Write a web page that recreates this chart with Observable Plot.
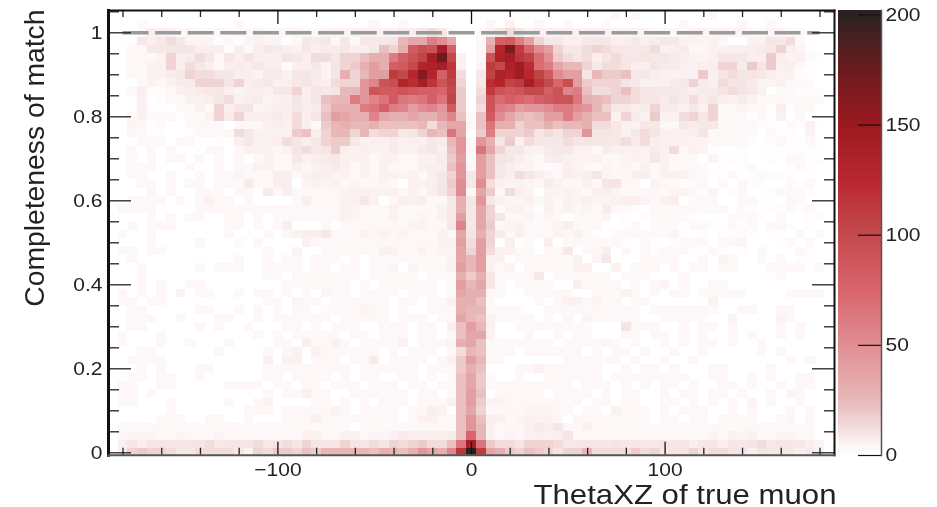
<!DOCTYPE html>
<html><head><meta charset="utf-8">
<script src="https://cdn.jsdelivr.net/npm/d3@7"></script>
<script src="https://cdn.jsdelivr.net/npm/@observablehq/plot@0.6"></script>
<style>html,body{margin:0;padding:0;background:#fff}#wrap{position:relative;width:937px;height:507px;overflow:hidden;font-family:"Liberation Sans",Arial,sans-serif}#wrap svg{position:absolute;left:0;top:0;background:transparent;font-family:"Liberation Sans",Arial,sans-serif;filter:blur(0.4px)}</style>
</head><body><div id="wrap"></div>
<script>
// Count per character: digits are literal counts, letters are estimated count levels.
const countLevels = {a:12,b:15,c:18,d:22,e:25,f:30,g:35,h:40,i:45,j:50,k:55,l:60,m:65,n:70,o:75,p:80,q:85,r:90,s:95,t:100,u:105,v:110,w:115,x:120,y:125,z:130,A:135,B:140,C:145,D:150,E:160,F:165,G:175,H:200};
const binWidthTheta = 5, binWidthComp = 0.02;
// rows run from completeness 1.04 (top) down to 0.
// Left arm: theta -180 ... -10 (last character is -10)
const leftCounts = [
"00000000000000000000000000000000100",
"00200000000030000000000000300200000",
"00366534323323423343244455555668a82",
"01868a84441314544138783828889eggljg",
"033889996661626876586778668dbfqsrBp",
"03335b67a83869666986aa8bbdfflpruBGt",
"03355b6a863676866166849bcfhfpqtzABw",
"0235578baa9866477589749fbehhvtyEzpv",
"00353577bbb9b678568976abbikrszxBwru",
"036113567886466588b6989eeirqqrqppot",
"01501325569a567456969deelikmqmlmpmu",
"0151102253b6994566867cffflmplkhjkiq",
"0352231225b7b66676a69dhgffkgffgffhk",
"043120033330333565a62cefeefddddeaeg",
"033110013333a85555cd6beebeabb89bedm",
"00333033001068556a968bcc8565756587e",
"0303030003303555359a89c65655755786d",
"0303033030203035338567855535533557c",
"0333000300303355335356753535333666d",
"0330030030334333663566453535545268b",
"033030330332733660454534334305568c",
"004030033303307363333345555535369b",
"03333030353303000036333558503656338",
"33330000333332333333333543235323358",
"030303300330302333333543335334358",
"03033300000330303600030333333345338",
"30030000000300030356683335353433353",
"00030000300020300005333333333333355",
"33033000000000030040022223255335344",
"03000000000030030330322030323222325",
"00300000303330033330320230234042235",
"00300000000000033033333320332220223",
"00303003300000000332332303033322302",
"30303050330030330303043302323033303",
"33033000000000033043303333330330335",
"03300000330030303033023334320300333",
"03330030003300303333330333330333033",
"03300000303003000330303330033303306",
"30003000000000303033333033033303303",
"30003003000300003306335303333503334",
"00330000003000030350533333303033303",
"03333000000000060550333033703333035",
"00303000330000033333333303333330333",
"03303300300000033033330303300330303",
"33003300000333303303303330333033033",
"33030000000000030336330033333303303",
"33000300000300350000330303033303335",
"00000300000003330333335303333033650",
"00003330033003000333533333333035533",
"22233223232232222223222202223232333",
"34443243334333333335533553445766667",
"696999999a8999a89a9b999b99a9babcaad",
"6bcbba88aaaa85baccbdceeeeedfedfigfk"
];
// Core: theta -5, 0, +5
const coreCounts = ["000","000","002","003","003","503","504","a08","b08","c0a","c0b","c0a","d2d","g3d","g0c","i2i","i3m","h2h","i3h","i8h","j8j","j3g","f9i","f8g","h8g","k8g","g9f","hah","gbh","geh","heh","fcf","heg","gff","ffd","fee","ged","dhe","dgg","fgd","aed","che","cfd","dgc","dgc","dhd","dhc","dgb","did","die","doe","mBm","wHv"];
// Right arm: theta +10 ... +180 (first character is +10)
const rightCounts = [
"00000000000003030000000300000000000",
"30500300300020000000300000300200000",
"58a85655555554444333344444433443210",
"fpqlhb8866888668678855453005598a300",
"hzFvojhb88aba8888a567335566678b6410",
"rABwunjca9a69a889887644588866c64521",
"vtACxnlgeeb8aa9669775566bb7c9c56310",
"uAzCyuqjhh9eccd8865555c69a998645110",
"xzuvBwtoshcbbb9855578b75a9974453320",
"vrqrttprkldaabda988876779a985022111",
"rnponpqrrmfedbba99797a7965753333333",
"rlkhiijlljieb8867b77585b33433161320",
"qjgedehhlhfdd5b75c55ab8b32313150200",
"mffbddfdeefaa8558833878832231102151",
"lbbbc9a9bbi99858a955569233220211040",
"f9c5a888a99888a7a655544332210131121",
"gb88557885537555575a354100100111110",
"d9864367544533454853320411100103201",
"d8644313643243435352332010120001310",
"d86a864365694336625553311301211100",
"a5454375335399330432123020311002130",
"c3a64054543664223324431401300122210",
"85445353546445664356023200220103200",
"b2553153534373210332332230210112130",
"b93342420233401012222100022310300110",
"c3453234632300130222032102120231010",
"b7363334352102233224101011210110302",
"b0602060233233102101322032400012020",
"a5533033802360303133310310103000310",
"55033333250480003333003042003020110",
"53403333355005033302033022000333303",
"83333803333320333000200000000130000",
"83033330063333030340300330000000000",
"32003333300333530303302222200003333",
"20000303553423033000000500000000000",
"22220033333333330333333200330033000",
"53322030304333330033332004000043000",
"50022323322000933300303303000030300",
"50003003033000330330303003030030300",
"22323330233342030030303303003000000",
"32303333230303303003003000003030000",
"23000000333333030030030000000003030",
"00023533333300303303000330000300000",
"20030033333303333333300330030300330",
"33333333303330303033030033030030330",
"03333303333030330030330330300304300",
"44333333330330330033030303040300300",
"33334443303305333030333003030003030",
"65345453033333333033033033330034030",
"53335768335333222222222322232322320",
"53435656933333333333333435453344330",
"caa9bbba88998989889896896989a898864",
"gfcbdcb9bbeaaaacab899b9aa9969898684"
];
const xMajor = [-100, 0, 100];
const xMinor = [-180,-160,-140,-120,-80,-60,-40,-20,20,40,60,80,120,140,160,180];
const yMajor = [0,0.2,0.4,0.6,0.8,1];
const yMinor = [0.05,0.1,0.15,0.25,0.3,0.35,0.45,0.5,0.55,0.65,0.7,0.75,0.85,0.9,0.95,1.05];
const barTicks = [0,50,100,150,200];
const colorStops = [0,5,12,25,50,75,100,125,150,175,200];
const colorRange = ["#ffffff","#fbf1f1","#f2dcdc","#e8b8b8","#e08c92","#d9646c","#c24a4c","#b9262e","#9a1a20","#6a1c1e","#2a2222"];

const decode = ch => (ch in countLevels ? countLevels[ch] : +ch);
const cells = [];
coreCounts.forEach((core, r) => {
  const comp = (coreCounts.length - 1 - r) * binWidthComp;
  const push = (k, ch) => cells.push({theta: k * binWidthTheta, comp, n: decode(ch)});
  const L = leftCounts[r], R = rightCounts[r];
  for (let i = 0; i < L.length; i++) push(-2 - (L.length - 1 - i), L[i]);
  for (let i = 0; i < 3; i++) push(i - 1, core[i]);
  for (let i = 0; i < R.length; i++) push(2 + i, R[i]);
});
const colorScale = {type:"linear", domain:colorStops, range:colorRange, clamp:true};
const frameH = 444.7, frameW = 726;
const main = Plot.plot({
  width:937, height:507, marginLeft:108, marginRight:103, marginTop:10, marginBottom:52.3,
  x:{domain:[-187.5,187.5], axis:null}, y:{domain:[-0.0057,1.0531], axis:null},
  color:colorScale,
  marks:[
    Plot.rect(cells,{x1:d=>d.theta-binWidthTheta/2,x2:d=>d.theta+binWidthTheta/2,y1:d=>d.comp-binWidthComp/2,y2:d=>d.comp+binWidthComp/2,fill:"n",clip:true,shapeRendering:"crispEdges"}),
    Plot.ruleY([1],{x1:-180,x2:180,stroke:"#9a9a9a",strokeWidth:3.5,strokeDasharray:"26,6.6"}),
    Plot.ruleX(xMinor,{insetTop:frameH-7,stroke:"#222",strokeWidth:1.3}),
    Plot.ruleX(xMinor,{insetBottom:frameH-7,stroke:"#222",strokeWidth:1.3}),
    Plot.ruleX(xMajor,{insetTop:frameH-13,stroke:"#111",strokeWidth:1.3}),
    Plot.ruleX(xMajor,{insetBottom:frameH-14,stroke:"#111",strokeWidth:1.3}),
    Plot.ruleY(yMinor,{insetRight:frameW-11,stroke:"#222",strokeWidth:1.3}),
    Plot.ruleY(yMinor,{insetLeft:frameW-10,stroke:"#222",strokeWidth:1.3}),
    Plot.ruleY(yMajor,{insetRight:frameW-23,stroke:"#222",strokeWidth:1.3}),
    Plot.ruleY(yMajor,{insetLeft:frameW-22,stroke:"#222",strokeWidth:1.3}),
    Plot.frame({anchor:"top",stroke:"#111",strokeWidth:2}),
    Plot.frame({anchor:"right",stroke:"#111",strokeWidth:2}),
    Plot.frame({anchor:"left",stroke:"#111",strokeWidth:3}),
    Plot.frame({anchor:"bottom",stroke:"#555",strokeWidth:2}),
    Plot.axisX({anchor:"bottom",ticks:xMajor,tickSize:0,tickPadding:8,label:null,fontSize:18.6,fill:"#222",tickFormat:d=>d<0?"\u2212"+(-d):String(d)}),
    Plot.axisY({anchor:"left",ticks:yMajor,tickSize:0,tickPadding:6,label:null,fontSize:18.6,fill:"#222",tickFormat:d=>String(d)}),
    Plot.text(["ThetaXZ of true muon"],{text:d=>d,frameAnchor:"bottom-right",dx:2,dy:49,lineAnchor:"bottom",textAnchor:"end",fontSize:27.5,fill:"#222"}),
    Plot.text(["Completeness of match"],{text:d=>d,frameAnchor:"top-left",dx:-74,dy:-1,rotate:-90,textAnchor:"end",lineAnchor:"middle",fontSize:28.3,fill:"#222"})
  ]
});
const barStops = d3.range(0,202,1);
const bar = Plot.plot({
  width:937, height:507, marginLeft:838, marginRight:56, marginTop:10, marginBottom:52,
  x:{domain:[0,1],axis:null}, y:{domain:[0,202],axis:null},
  color:colorScale,
  marks:[
    Plot.rect(barStops,{x1:0,x2:1,y1:d=>d,y2:d=>d+1,fill:d=>d,shapeRendering:"crispEdges"}),
    Plot.ruleY(barTicks,{insetLeft:20,stroke:"#111",strokeWidth:1.2}),
    Plot.frame({anchor:"right",stroke:"#555",strokeWidth:1.5}),
    Plot.axisY({anchor:"right",ticks:barTicks,tickSize:0,tickPadding:4,label:null,fontSize:18.6,fill:"#222",tickFormat:d=>String(d)})
  ]
});
const wrap = document.getElementById("wrap");
wrap.appendChild(main); wrap.appendChild(bar);
// the reference is stretched horizontally: widen the horizontal labels to match
for (const svg of [main, bar]) {
  svg.querySelectorAll("text").forEach(t => {
    const s = t.textContent;
    if (s === "Completeness of match") return;
    const len = t.getComputedTextLength();
    t.setAttribute("textLength", s === "ThetaXZ of true muon" ? 303 : len * 1.13);
    t.setAttribute("lengthAdjust", "spacingAndGlyphs");
  });
}
</script></body></html>
